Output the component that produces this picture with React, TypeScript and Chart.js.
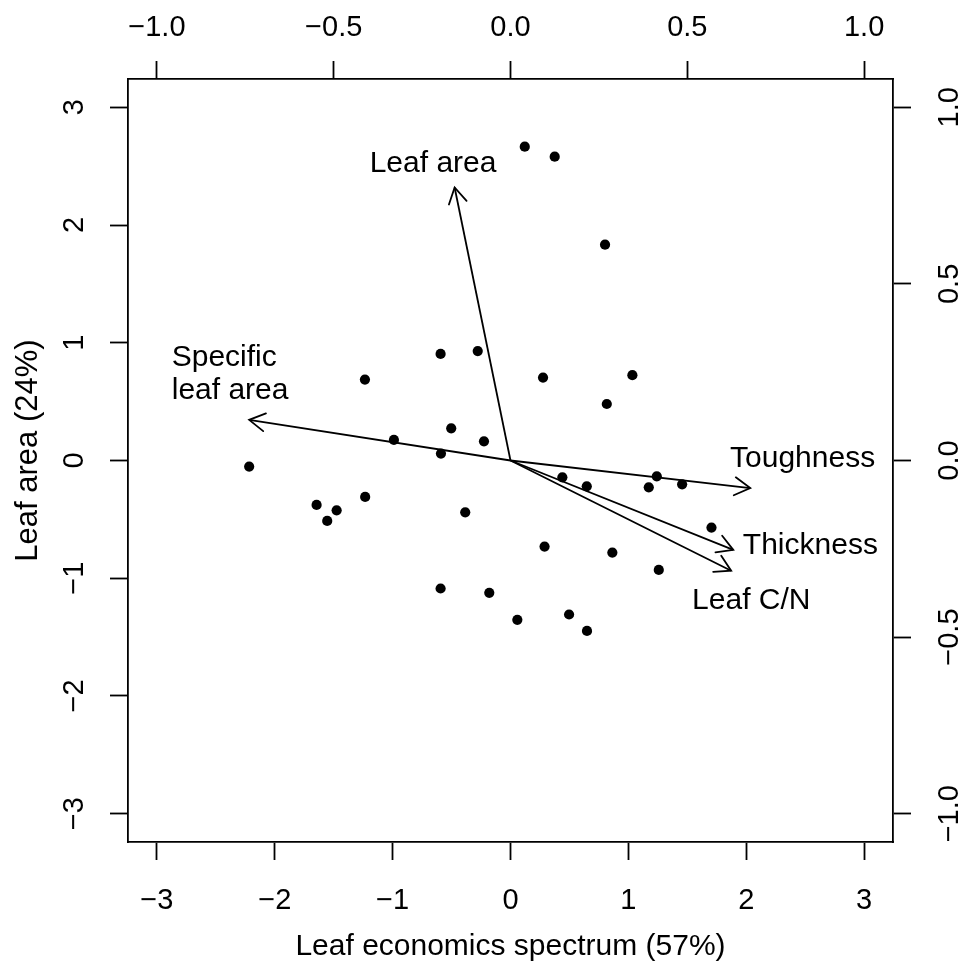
import React, { useEffect, useRef } from "react";
import { Chart, registerables } from "chart.js";

Chart.register(...registerables);

// Site scores (PC1, PC2)
const scoreX = [0.121, 0.375, 0.802, -0.593, -0.278, -1.235, 0.276, 1.034, 0.817, -0.503, -0.225, -0.989, -0.590, -2.217, 0.440, 0.647, 1.241, 1.173, 1.456, -1.233, -1.645, -1.475, -1.555, -0.384, 1.705, 0.289, 0.864, 1.258, -0.593, -0.180, 0.058, 0.497, 0.649];
const scoreY = [2.665, 2.580, 1.833, 0.905, 0.929, 0.687, 0.704, 0.725, 0.480, 0.273, 0.163, 0.175, 0.059, -0.052, -0.143, -0.219, -0.134, -0.228, -0.202, -0.309, -0.377, -0.423, -0.513, -0.440, -0.570, -0.731, -0.782, -0.929, -1.087, -1.124, -1.353, -1.308, -1.447];

// Trait loadings (top / right axes)
const traitNames = ["Leaf area", "Specific\nleaf area", "Toughness", "Thickness", "Leaf C/N"];
const loadX = [-0.158, -0.739, 0.678, 0.630, 0.624];
const loadY = [0.773, 0.115, -0.078, -0.253, -0.312];
const labelX = [-0.219, -0.958, 0.826, 0.848, 0.681];
const labelY = [0.846, 0.252, 0.013, -0.233, -0.391];
const labelAlign = ["center", "left", "center", "center", "center"];

const primaryTicks = [-3, -2, -1, 0, 1, 2, 3];
const primaryTickLabels = ["\u22123", "\u22122", "\u22121", "0", "1", "2", "3"];
const secondaryTicks = [-1.0, -0.5, 0.0, 0.5, 1.0];
const secondaryTickLabels = ["\u22121.0", "\u22120.5", "0.0", "0.5", "1.0"];

const xTitle = "Leaf economics spectrum (57%)";
const yTitle = "Leaf area (24%)";

const FONT = '"Liberation Sans", Arial, Helvetica, sans-serif';
const LW = 1.8;

const labelFor = (vals: number[], labs: string[], v: number) => {
  const i = vals.findIndex((t) => Math.abs(t - v) < 1e-9);
  return i >= 0 ? labs[i] : String(v);
};

const biplotPlugin = {
  id: "biplotPlugin",
  afterDatasetsDraw(chart: any) {
    const ctx = chart.ctx;
    ctx.save();
    ctx.strokeStyle = "#000";
    ctx.lineWidth = LW;
    ctx.lineCap = "round";
    chart.data.datasets.forEach((ds: any, i: number) => {
      if (!ds.isArrow) return;
      const meta = chart.getDatasetMeta(i);
      const p0 = meta.data[0];
      const p1 = meta.data[1];
      const ang = Math.atan2(p1.y - p0.y, p1.x - p0.x);
      const len = 18;
      const spread = Math.PI / 6;
      ctx.beginPath();
      ctx.moveTo(p1.x - len * Math.cos(ang - spread), p1.y - len * Math.sin(ang - spread));
      ctx.lineTo(p1.x, p1.y);
      ctx.lineTo(p1.x - len * Math.cos(ang + spread), p1.y - len * Math.sin(ang + spread));
      ctx.stroke();
    });
    ctx.restore();
  },
  afterDraw(chart: any) {
    const ctx = chart.ctx;
    const { x, y, x2, y2 } = chart.scales;
    const area = chart.chartArea;
    ctx.save();
    ctx.fillStyle = "#000";
    ctx.textBaseline = "alphabetic";
    ctx.textAlign = "center";

    // tick labels
    const tickSize = 29;
    const tcap = 0.716 * tickSize;
    ctx.font = `${tickSize}px ${FONT}`;
    x.ticks.forEach((t: any) => {
      ctx.fillText(labelFor(primaryTicks, primaryTickLabels, t.value), x.getPixelForValue(t.value), area.bottom + 57 + tcap / 2);
    });
    x2.ticks.forEach((t: any) => {
      ctx.fillText(labelFor(secondaryTicks, secondaryTickLabels, t.value), x2.getPixelForValue(t.value), area.top - 53 + tcap / 2);
    });
    y.ticks.forEach((t: any) => {
      ctx.save();
      ctx.translate(area.left - 55.5 + tcap / 2, y.getPixelForValue(t.value));
      ctx.rotate(-Math.PI / 2);
      ctx.fillText(labelFor(primaryTicks, primaryTickLabels, t.value), 0, 0);
      ctx.restore();
    });
    y2.ticks.forEach((t: any) => {
      ctx.save();
      ctx.translate(area.right + 55 + tcap / 2, y2.getPixelForValue(t.value));
      ctx.rotate(-Math.PI / 2);
      ctx.fillText(labelFor(secondaryTicks, secondaryTickLabels, t.value), 0, 0);
      ctx.restore();
    });

    // axis titles
    ctx.font = `30px ${FONT}`;
    ctx.fillText(xTitle, (area.left + area.right) / 2, area.bottom + 113);
    ctx.save();
    ctx.font = `31px ${FONT}`;
    ctx.translate(area.left - 91, (area.top + area.bottom) / 2 - 10);
    ctx.rotate(-Math.PI / 2);
    ctx.fillText(yTitle, 0, 0);
    ctx.restore();

    // trait labels
    const ls = 30;
    const lcap = 0.716 * ls;
    const lineH = 33;
    ctx.font = `${ls}px ${FONT}`;
    traitNames.forEach((name, i) => {
      const lines = name.split("\n");
      const px = x2.getPixelForValue(labelX[i]);
      const py = y2.getPixelForValue(labelY[i]);
      ctx.textAlign = labelAlign[i] as CanvasTextAlign;
      const first = py - ((lines.length - 1) * lineH) / 2 + lcap / 2;
      lines.forEach((ln, k) => ctx.fillText(ln, px, first + k * lineH));
    });
    ctx.restore();
  },
};

export default function App() {
  const ref = useRef<HTMLCanvasElement | null>(null);
  useEffect(() => {
    if (!ref.current) return;
    const axisCommon = (pos: string) => ({
      type: "linear" as const,
      position: pos,
      grid: {
        display: true,
        drawOnChartArea: false,
        drawTicks: true,
        tickLength: 18,
        tickColor: "#000",
        tickWidth: LW,
      },
      border: { display: true, color: "#000", width: LW },
      ticks: { display: false, includeBounds: false },
    });
    const setTicks = (vals: number[]) => (scale: any) => {
      scale.ticks = vals.map((v) => ({ value: v }));
    };
    const datasets: any[] = [
      {
        type: "scatter",
        label: "scores",
        data: scoreX.map((v, i) => ({ x: v, y: scoreY[i] })),
        xAxisID: "x",
        yAxisID: "y",
        backgroundColor: "#000",
        borderWidth: 0,
        pointRadius: 5.1,
        pointHoverRadius: 5.1,
      },
      ...traitNames.map((n, i) => ({
        type: "scatter",
        label: n,
        isArrow: true,
        data: [
          { x: 0, y: 0 },
          { x: loadX[i], y: loadY[i] },
        ],
        xAxisID: "x2",
        yAxisID: "y2",
        showLine: true,
        borderColor: "#000",
        borderWidth: LW,
        pointRadius: 0,
        pointHoverRadius: 0,
        fill: false,
      })),
    ];
    const chart = new Chart(ref.current, {
      type: "scatter",
      data: { datasets },
      options: {
        animation: false,
        responsive: false,
        devicePixelRatio: 1,
        events: [],
        layout: { padding: { left: 110, right: 55, top: 61, bottom: 109 } },
        plugins: { legend: { display: false }, tooltip: { enabled: false }, title: { display: false } },
        scales: {
          x: { ...axisCommon("bottom"), min: -3.245, max: 3.245, afterBuildTicks: setTicks(primaryTicks) },
          y: { ...axisCommon("left"), min: -3.24, max: 3.24, afterBuildTicks: setTicks(primaryTicks) },
          x2: { ...axisCommon("top"), min: -3.245 / 3, max: 3.245 / 3, afterBuildTicks: setTicks(secondaryTicks) },
          y2: { ...axisCommon("right"), min: -1.08, max: 1.08, afterBuildTicks: setTicks(secondaryTicks) },
        },
      } as any,
      plugins: [biplotPlugin],
    });
    return () => chart.destroy();
  }, []);
  return (
    <div style={{ position: "fixed", left: 0, top: 0, width: 966, height: 969, background: "#fff" }}>
      <canvas ref={ref} width={966} height={969} style={{ width: 966, height: 969, display: "block" }} />
    </div>
  );
}
